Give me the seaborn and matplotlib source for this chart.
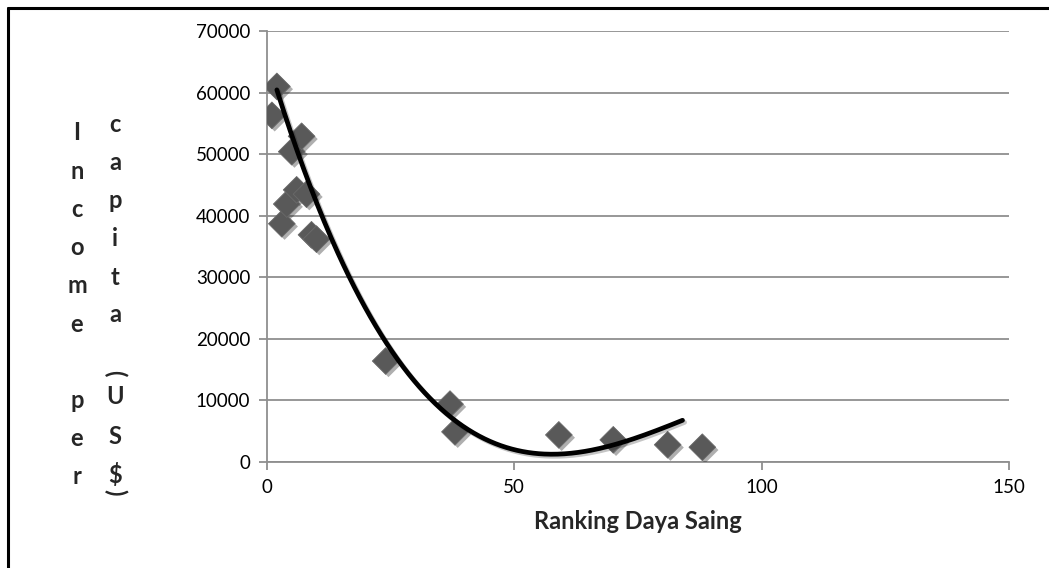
import numpy as np
import pandas as pd
import seaborn as sns
import matplotlib.pyplot as plt
import matplotlib.patheffects as pe
from matplotlib.lines import Line2D

# Competitiveness ranking vs. income per capita (US$)
ranking = [1, 2, 3, 4, 5, 6, 7, 8, 9, 10, 24, 37, 38, 59, 70, 81, 88]
income = [56300, 61000, 38700, 41900, 50400, 44200, 52900, 43500, 36900, 36200,
          16400, 9400, 4900, 4400, 3600, 2800, 2400]

# points along the polynomial trendline
trend_x = [2, 24, 37, 50, 54, 70, 84]
trend_y = [60500, 19000, 8400, 1500, 1100, 3100, 6700]

x_ticks = [0, 50, 100, 150]
y_ticks = [0, 10000, 20000, 30000, 40000, 50000, 60000, 70000]
x_title = "Ranking Daya Saing"
y_title_col1 = ["I", "n", "c", "o", "m", "e", "", "p", "e", "r"]
y_title_col2 = ["c", "a", "p", "i", "t", "a", "(", "U", "S", "$", ")"]

df = pd.DataFrame({"Ranking": ranking, "Income": income})

sns.set_theme(style="white")
plt.rcParams["font.family"] = ["Lato", "DejaVu Sans"]

fig = plt.figure(figsize=(10.49, 5.68), dpi=100)
ax = fig.add_axes([0.2545, 0.1866, 0.9619 - 0.2545, 0.9454 - 0.1866])

# third-order trendline
coef = np.polyfit(trend_x, trend_y, 3)
xt = np.linspace(min(trend_x), max(trend_x), 300)
yt = np.polyval(coef, xt)
ax.plot(xt, yt, color="black", lw=3.4, zorder=4, solid_capstyle="round",
        path_effects=[pe.SimpleLineShadow(offset=(1.5, -1.5), alpha=0.25), pe.Normal()])

sns.scatterplot(data=df, x="Ranking", y="Income", marker="D", s=185,
                color="#595959", edgecolor="#6a6a6a", linewidth=0.6, ax=ax, zorder=3)
for coll in ax.collections:
    coll.set_path_effects([pe.SimplePatchShadow(offset=(2, -2), alpha=0.35), pe.Normal()])

ax.set_xlim(0, 150)
ax.set_ylim(0, 70000)
ax.set_xticks(x_ticks)
ax.set_yticks(y_ticks)
ax.set_xticklabels([str(v) for v in x_ticks], fontsize=13.5)
ax.set_yticklabels([str(v) for v in y_ticks], fontsize=13.5)
ax.yaxis.grid(True, color="#8f8f8f", lw=1.3)
ax.xaxis.grid(False)
ax.set_axisbelow(True)
for side in ["top", "right"]:
    ax.spines[side].set_visible(False)
for side in ["left", "bottom"]:
    ax.spines[side].set_color("#8f8f8f")
    ax.spines[side].set_linewidth(1.3)
ax.tick_params(axis="both", direction="out", length=6, width=1.3, color="#8f8f8f",
               labelcolor="black", pad=6, left=True, bottom=True)
ax.set_xlabel(x_title, fontsize=17, fontweight="bold", labelpad=10)
ax.set_ylabel("")

# stacked vertical y-axis title, two columns
W, H = 1049, 568
row = 38.2
for i, ch in enumerate(y_title_col1):
    if ch:
        fig.text(77 / W, 1 - (133 + i * row) / H, ch, ha="center", va="center",
                 fontsize=17, fontweight="bold")
col2_y = [125, 163, 201, 239, 277, 315, 373, 397, 437, 475, 492]
for ch, yy in zip(y_title_col2, col2_y):
    rot = -90 if ch in "()" else 0
    fig.text(115 / W, 1 - yy / H, ch, ha="center", va="center", rotation=rot,
             fontsize=17, fontweight="bold")

# chart border (left and top edges)
fig.add_artist(Line2D([8 / W, 8 / W], [0, 1 - 8 / H], color="black", lw=2.2,
                      transform=fig.transFigure))
fig.add_artist(Line2D([8 / W, 1], [1 - 8 / H, 1 - 8 / H], color="black", lw=2.2,
                      transform=fig.transFigure))

fig.savefig("out.png", dpi=100, facecolor="white")
